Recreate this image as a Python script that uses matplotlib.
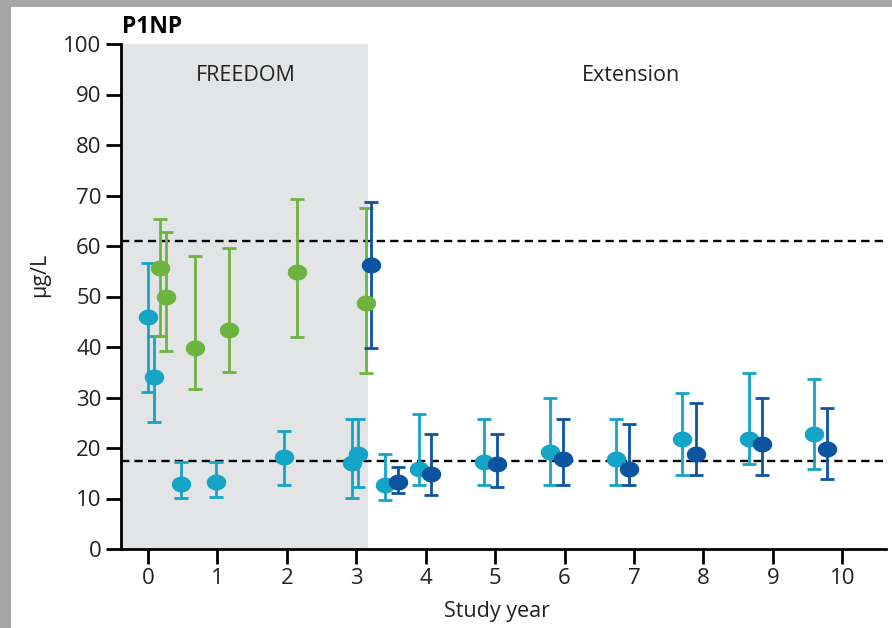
import matplotlib.pyplot as plt
import numpy as np
from matplotlib.path import Path
from matplotlib.patches import Rectangle

plt.rcParams['font.family'] = ['Open Sans', 'DejaVu Sans']

# cyan series (FREEDOM + extension, previous placebo/denosumab group)
cyan_x = [0, 0.08, 0.48, 0.98, 1.96, 2.94, 3.03, 3.42, 3.90, 4.84, 5.79, 6.74, 7.69, 8.65, 9.60]
cyan_y = [45.9, 34.1, 12.9, 13.3, 18.3, 17.0, 18.8, 12.7, 15.8, 17.2, 19.2, 17.8, 21.8, 21.8, 22.8]
cyan_lo = [31.1, 25.1, 10.1, 10.3, 12.7, 10.1, 12.3, 9.7, 12.7, 12.7, 12.7, 12.7, 14.7, 16.8, 15.8]
cyan_hi = [56.6, 42.2, 17.2, 17.2, 23.4, 25.7, 25.7, 18.8, 26.7, 25.7, 29.9, 25.7, 30.9, 34.9, 33.7]

# green series
green_x = [0.17, 0.26, 0.68, 1.17, 2.15, 3.14]
green_y = [55.6, 50.0, 39.8, 43.4, 54.9, 48.7]
green_lo = [42.2, 39.2, 31.7, 35.0, 42.0, 34.9]
green_hi = [65.3, 62.8, 58.0, 59.6, 69.3, 67.5]

# dark blue series
dark_x = [3.21, 3.60, 4.08, 5.03, 5.98, 6.93, 7.90, 8.85, 9.78]
dark_y = [56.2, 13.3, 14.8, 16.8, 17.8, 15.8, 18.8, 20.8, 19.8]
dark_lo = [39.8, 11.1, 10.7, 12.3, 12.7, 12.7, 14.7, 14.7, 13.9]
dark_hi = [68.7, 16.3, 22.8, 22.8, 25.7, 24.8, 28.9, 29.9, 27.9]

ref_lines = [61, 17.5]
year_ticks = list(range(0, 11))
freedom_end = 3.17

fig = plt.figure(figsize=(8.92, 6.28), dpi=100, facecolor='white')
# grey frame on the top and left edges
fig.patches.append(Rectangle((0, 0), 11 / 892, 1, transform=fig.transFigure,
                             facecolor='#a6a6a6', edgecolor='none'))
fig.patches.append(Rectangle((0, 1 - 7 / 628), 1, 7 / 628, transform=fig.transFigure,
                             facecolor='#a6a6a6', edgecolor='none'))
ax = fig.add_axes([121 / 892, 1 - 549 / 628, (886 - 121) / 892, (549 - 44) / 628])
ax.set_facecolor('none')
ax.set_xlim(-0.39, 10.63)
ax.set_ylim(0, 100)

ax.axvspan(-0.39, freedom_end, ymin=0, ymax=1, color='#e3e4e6', zorder=0, lw=0)

for r in ref_lines:
    ax.axhline(r, color='black', lw=1.7, ls=(0, (3.5, 2.2)), zorder=1)

t = np.linspace(0, 2 * np.pi, 60)
ellipse = Path(np.column_stack([np.cos(t), 0.82 * np.sin(t)]), closed=True)


def draw(x, y, lo, hi, color):
    y = np.array(y)
    err = [y - np.array(lo), np.array(hi) - y]
    ax.errorbar(x, y, yerr=err, fmt='none', ecolor=color, elinewidth=2,
                capsize=4.8, capthick=2, zorder=2)
    ax.plot(x, y, ls='none', marker=ellipse, markersize=14, color=color,
            markeredgewidth=0, zorder=3)


draw(cyan_x, cyan_y, cyan_lo, cyan_hi, '#14a5c6')
draw(green_x, green_y, green_lo, green_hi, '#6cb43f')
draw(dark_x, dark_y, dark_lo, dark_hi, '#0b55a0')

ax.spines['top'].set_visible(False)
ax.spines['right'].set_visible(False)
for s in ['left', 'bottom']:
    ax.spines[s].set_linewidth(2)
ax.set_yticks(range(0, 101, 10))
ax.set_xticks(year_ticks)
ax.tick_params(axis='both', length=11, width=2, labelsize=16, labelcolor='#222222', pad=3)

ax.text(1.41, 93.7, 'FREEDOM', ha='center', va='center', fontsize=15.5, color='#222222')
ax.text(6.95, 93.7, 'Extension', ha='center', va='center', fontsize=15.5, color='#222222')
ax.set_xlabel('Study year', fontsize=15.5, color='#222222', va='center')
ax.xaxis.set_label_coords((497 - 121) / 765, (549 - 611) / 505)
ax.set_ylabel('µg/L', fontsize=15.5, color='#222222', va='center')
ax.yaxis.set_label_coords((40 - 121) / 765, (549 - 275) / 505)
fig.text(122 / 892, 1 - 27 / 628, 'P1NP', fontsize=16.5, fontweight='bold', va='center', ha='left')

fig.savefig('out.png', dpi=100)
